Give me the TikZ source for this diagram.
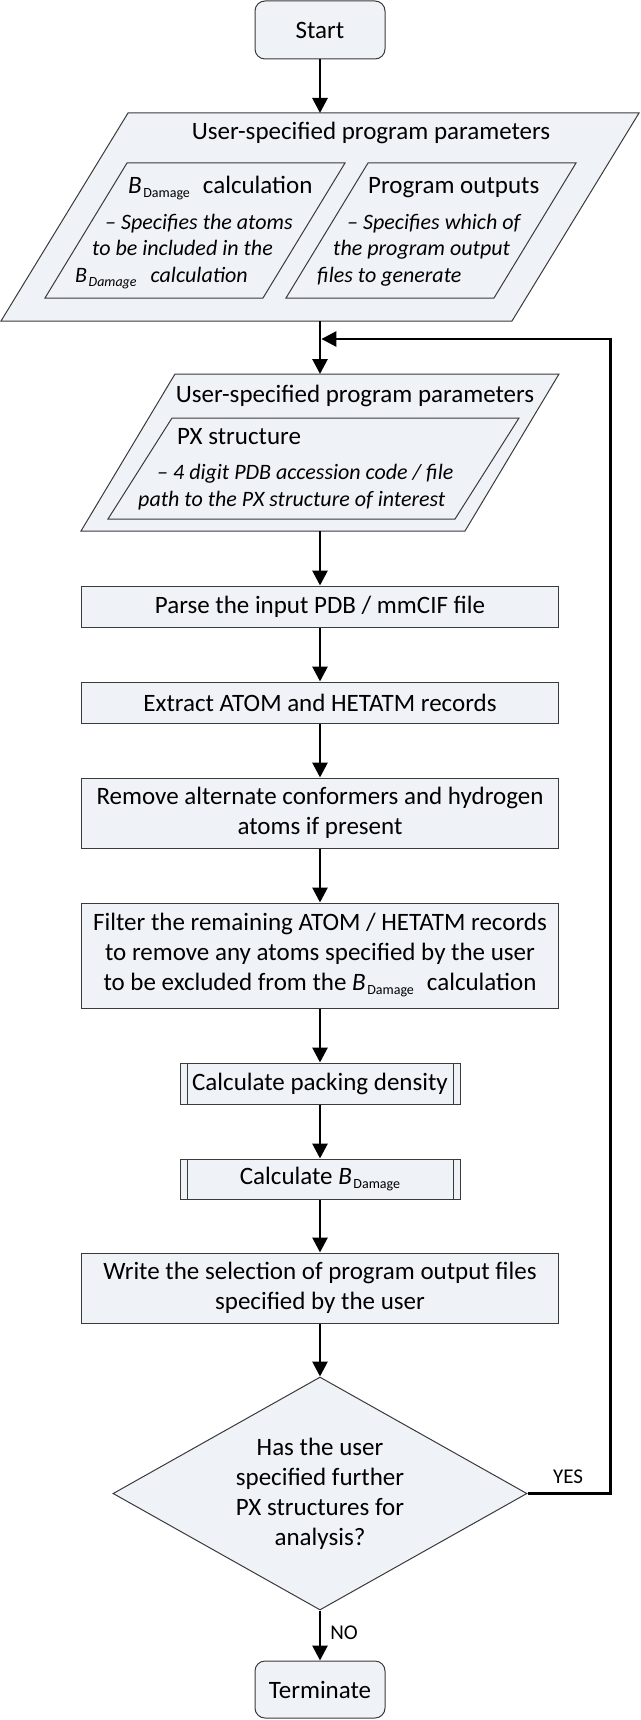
\documentclass[tikz,border=0pt]{standalone}
\usepackage{fontspec}
\setmainfont{Carlito}
\usetikzlibrary{arrows.meta,shapes.geometric}
\definecolor{boxfill}{HTML}{EFF3F7}
\definecolor{boxline}{HTML}{3A3A3A}
\newcommand{\bdmg}{\textit{B}\kern1.5pt\raisebox{-4pt}{\fontsize{14}{14}\selectfont Damage}}
% parallelogram: bottom-left x, bottom y, top y, width, slant
\def\slantbox(#1:#2:#3:#4:#5){\draw[para] (#1,#2) -- ++(#4,0) -- (#1+#4+#5,#3) -- (#1+#5,#3) -- cycle;}
\tikzset{
  base/.style={font=\fontsize{25}{30}\selectfont, draw=boxline, line width=1pt, fill=boxfill, inner sep=0pt, align=center},
  term/.style={base, rounded corners=10pt, minimum width=130pt, minimum height=58pt},
  procbox/.style={base, minimum width=477pt, minimum height=41pt},
  predef/.style={procbox, minimum width=280pt, path picture={
      \draw[boxline, line width=1pt] ([xshift=7pt]path picture bounding box.north west) -- ([xshift=7pt]path picture bounding box.south west);
      \draw[boxline, line width=1pt] ([xshift=-7pt]path picture bounding box.north east) -- ([xshift=-7pt]path picture bounding box.south east);}},
  decision/.style={base, diamond, shape aspect=1.78, minimum width=414pt, minimum height=233pt},
  para/.style={draw=boxline, line width=1pt, fill=boxfill},
  head/.style={font=\fontsize{25}{30}\selectfont, inner sep=0pt},
  note/.style={font=\fontsize{22}{26}\selectfont\itshape, inner sep=0pt, anchor=base west},
  flow/.style={line width=2.8pt, -{Triangle[length=15pt,width=15pt]}},
  answer/.style={font=\fontsize{21}{25}\selectfont, inner sep=0pt}
}
\begin{document}
\begin{tikzpicture}[x=1pt,y=-1pt]
	%%%%% START %%%%%
	\useasboundingbox (0,0) rectangle (640,1720);
	
	\node[term] (start) at (320,30) {Start};
	
	% first parameter block
	\slantbox(1:321:113:511:127)
	\slantbox(45:298:163:218:82)
	\slantbox(286:298:163:208:82)
	\coordinate (p1top) at (320,113);
	\coordinate (p1bot) at (320,321);
	\node[head, anchor=base] (p1title) at (371,140) {User-specified program parameters};
	\node[head, anchor=base west] (calchead) at (128,194) {\bdmg\hspace{13pt}calculation};
	\node[note] (calcnote1) at (105,230) {– Specifies the atoms};
	\node[note] (calcnote2) at (92,255) {to be included in the};
	\node[note] (calcnote3) at (75,282) {\bdmg\hspace{14pt}calculation};
	\node[head, anchor=base west] (outhead) at (368,194) {Program outputs};
	\node[note] (outnote1) at (347,230) {– Specifies which of};
	\node[note] (outnote2) at (333,255) {the program output};
	\node[note] (outnote3) at (317,282) {files to generate};
	
	% second parameter block
	\slantbox(81:531:374:384:94)
	\slantbox(108:519:418:347:64)
	\coordinate (p2top) at (320,374);
	\coordinate (p2bot) at (320,531);
	\coordinate (merge) at (321.4,339);
	\node[head, anchor=base] (p2title) at (355,402) {User-specified program parameters};
	\node[head, anchor=base west] (pxhead) at (177,444) {PX structure};
	\node[note] (pxnote1) at (157,479) {– 4 digit PDB accession code / file};
	\node[note] (pxnote2) at (138,506) {path to the PX structure of interest};
	
	% processing steps
	\node[procbox] (parse) at (320,606.5) {Parse the input PDB / mmCIF file};
	\node[procbox] (extract) at (320,702.5) {Extract ATOM and HETATM records};
	\node[procbox, minimum height=70pt] (remove) at (320,813) {Remove alternate conformers and hydrogen\\atoms if present};
	\node[procbox, minimum height=105pt] (filter) at (320,955.5) {Filter the remaining ATOM / HETATM records\\to remove any atoms specified by the user\\to be excluded from the \bdmg\hspace{13pt}calculation};
	\node[predef] (pack) at (320,1083.5) {Calculate packing density};
	\node[predef, minimum height=40pt] (calcb) at (320,1179) {Calculate \bdmg};
	\node[procbox, minimum height=70pt] (write) at (320,1288) {Write the selection of program output files\\specified by the user};
	\node[decision] (dec) at (320,1493.5) {Has the user\\specified further\\PX structures for\\analysis?};
	\node[term, minimum height=57pt] (finish) at (320,1689.5) {Terminate};
	\node[answer] (yes) at (568,1477) {YES};
	\node[answer] (no) at (344,1633) {NO};
	
	% connectors
	\draw[flow] (start) -- (p1top);
	\draw[flow] (p1bot) -- (p2top);
	\draw[flow] (p2bot) -- (parse);
	\draw[flow] (parse) -- (extract);
	\draw[flow] (extract) -- (remove);
	\draw[flow] (remove) -- (filter);
	\draw[flow] (filter) -- (pack);
	\draw[flow] (pack) -- (calcb);
	\draw[flow] (calcb) -- (write);
	\draw[flow] (write) -- (dec);
	\draw[flow] (dec) -- (finish);
	\draw[flow] (dec.east) -- ++(83,0) |- (merge);
	
	%%%%% END %%%%%
\end{tikzpicture}
\end{document}
